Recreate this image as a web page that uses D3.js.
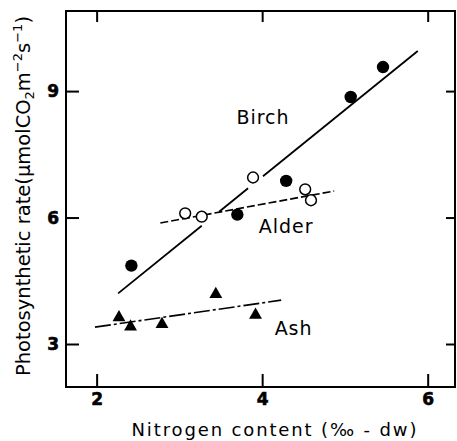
<!DOCTYPE html>
<html><head><meta charset="utf-8">
<script src="https://cdn.jsdelivr.net/npm/d3@7"></script>
<style>
html,body{margin:0;padding:0;background:#fff;}
svg{display:block;}
text{font-family:"DejaVu Sans","Noto Sans",sans-serif;fill:#000;}
</style></head>
<body>
<svg id="c" width="457" height="441"></svg>
<script>
// ---- data ----
const xTicks = [2, 4, 6];
const yTicks = [3, 6, 9];

const birchN = [2.42, 3.70, 4.29, 5.07, 5.46];
const birchP = [4.86, 6.07, 6.87, 8.86, 9.57];

const alderN = [3.07, 3.27, 3.89, 4.52, 4.59];
const alderP = [6.10, 6.02, 6.95, 6.67, 6.41];

const ashN = [2.27, 2.41, 2.79, 3.44, 3.92];
const ashP = [3.63, 3.41, 3.47, 4.18, 3.69];

// regression lines: [xStart, xEnd], [yStart, yEnd]
const birchFitN = [2.26, 5.88], birchFitP = [4.20, 9.95];
const birchBreaks = [[2.26, 3.27], [3.48, 3.83], [4.01, 5.88]]; // visible pieces
const alderFitN = [2.77, 4.87], alderFitP = [5.87, 6.63];
const ashFitN = [1.98, 4.23], ashFitP = [3.40, 4.04];

const seriesLabels = ["Birch", "Alder", "Ash"];
const labelN = [4.01, 4.29, 4.38];
const labelP = [8.38, 5.80, 3.37];

// ---- drawing ----
const svg = d3.select("#c");
const L = 66, R = 455, T = 11, B = 387;
const x = d3.scaleLinear().domain([1.63, 6.33]).range([L, R]);
const y = d3.scaleLinear().domain([1.98, 10.9]).range([B, T]);

// axes with inward ticks
const gx = svg.append("g").attr("transform", `translate(0,${B})`)
  .call(d3.axisBottom(x).tickValues(xTicks).tickSize(-13).tickPadding(6).tickFormat(d3.format("d")));
const gxt = svg.append("g").attr("transform", `translate(0,${T})`)
  .call(d3.axisTop(x).tickValues(xTicks).tickSize(-11).tickFormat(""));
const gy = svg.append("g").attr("transform", `translate(${L},0)`)
  .call(d3.axisLeft(y).tickValues(yTicks).tickSize(-13).tickPadding(7).tickFormat(d3.format("d")));
const gyr = svg.append("g").attr("transform", `translate(${R},0)`)
  .call(d3.axisRight(y).tickValues(yTicks).tickSize(-9).tickFormat(""));
[gx, gxt, gy, gyr].forEach(g => {
  g.select(".domain").remove();
  g.selectAll(".tick line").attr("stroke", "#000").attr("stroke-width", 2);
  g.selectAll(".tick text").attr("font-size", 17).attr("font-weight", "bold")
    .attr("font-family", "'DejaVu Sans', sans-serif").attr("fill", "#000")
    .attr("stroke", "#000").attr("stroke-width", 0.6);
});

// frame
svg.append("rect").attr("x", L).attr("y", T).attr("width", R - L).attr("height", B - T)
  .attr("fill", "none").attr("stroke", "#000").attr("stroke-width", 2);

// regression lines
function lineY(fn, fp, v) { return fp[0] + (fp[1] - fp[0]) * (v - fn[0]) / (fn[1] - fn[0]); }
birchBreaks.forEach(seg => {
  svg.append("line")
    .attr("x1", x(seg[0])).attr("y1", y(lineY(birchFitN, birchFitP, seg[0])))
    .attr("x2", x(seg[1])).attr("y2", y(lineY(birchFitN, birchFitP, seg[1])))
    .attr("stroke", "#000").attr("stroke-width", 1.8);
});
svg.append("line")
  .attr("x1", x(alderFitN[0])).attr("y1", y(alderFitP[0]))
  .attr("x2", x(alderFitN[1])).attr("y2", y(alderFitP[1]))
  .attr("stroke", "#000").attr("stroke-width", 1.6).attr("stroke-dasharray", "8,3");
svg.append("line")
  .attr("x1", x(ashFitN[0])).attr("y1", y(ashFitP[0]))
  .attr("x2", x(ashFitN[1])).attr("y2", y(ashFitP[1]))
  .attr("stroke", "#000").attr("stroke-width", 1.6).attr("stroke-dasharray", "16,3,3,3");

// markers
svg.selectAll("circle.birch").data(birchN).join("circle").attr("class", "birch")
  .attr("cx", d => x(d)).attr("cy", (d, i) => y(birchP[i])).attr("r", 6.2).attr("fill", "#000");
svg.selectAll("circle.alder").data(alderN).join("circle").attr("class", "alder")
  .attr("cx", d => x(d)).attr("cy", (d, i) => y(alderP[i])).attr("r", 5.4)
  .attr("fill", "#fff").attr("stroke", "#000").attr("stroke-width", 1.5);
const tri = d3.symbol().type(d3.symbolTriangle).size(72);
svg.selectAll("path.ash").data(ashN).join("path").attr("class", "ash")
  .attr("d", tri).attr("transform", (d, i) => `translate(${x(d)},${y(ashP[i])})`).attr("fill", "#000");

// series labels
svg.selectAll("text.lab").data(seriesLabels).join("text").attr("class", "lab")
  .attr("x", (d, i) => x(labelN[i])).attr("y", (d, i) => y(labelP[i]))
  .attr("text-anchor", "middle").attr("dominant-baseline", "central")
  .attr("font-size", 19).attr("letter-spacing", 1).text(d => d);

// axis titles
svg.append("text").attr("x", 274).attr("y", 436).attr("text-anchor", "middle")
  .attr("font-size", 18).attr("textLength", 285).attr("lengthAdjust", "spacing")
  .text("Nitrogen content  (\u2030 - dw)");

const yt = svg.append("text").attr("transform", "translate(30,196) rotate(-90)")
  .attr("text-anchor", "middle").attr("font-size", 19.5);
yt.append("tspan").text("Photosynthetic rate(\u03BCmolCO");
yt.append("tspan").attr("font-size", 13).attr("dy", 4).text("2");
yt.append("tspan").attr("dy", -4).text("m");
yt.append("tspan").attr("font-size", 13).attr("dy", -8).text("\u22122");
yt.append("tspan").attr("dy", 8).text("s");
yt.append("tspan").attr("font-size", 13).attr("dy", -8).text("\u22121");
yt.append("tspan").attr("dy", 8).text(")");
</script>
</body></html>
